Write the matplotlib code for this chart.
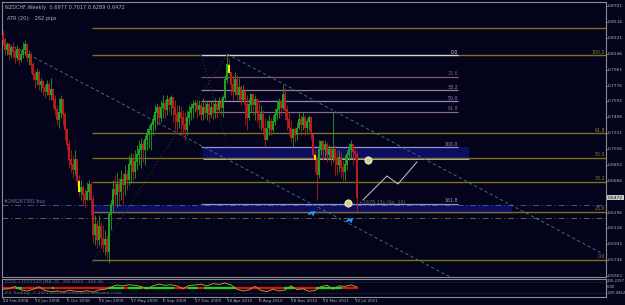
import matplotlib
matplotlib.use("Agg")
import matplotlib.pyplot as plt
from matplotlib.patches import Rectangle
from matplotlib.markers import MarkerStyle

# ---------------- data ----------------
symbol_header = "NZDCHF,Weekly  0.6977 0.7017 0.6289 0.6472"
atr_text = "ATR (20):   262 pips"

first_open = 0.836
closes = [0.8306,0.8189,0.8248,0.8131,0.822,0.8166,0.8097,0.8189,0.8073,0.8131,
          0.8189,0.8248,0.810,0.8131,0.8015,0.7899,0.7841,0.792,0.7782,0.782,
          0.775,0.770,0.7782,0.7666,0.7724,0.7608,0.7492,0.7375,0.746,0.7608,
          0.7434,0.7259,0.7085,0.6910,0.6852,0.6794,0.6910,0.6666,0.6538,0.6585,
          0.6503,0.6445,0.6538,0.662,0.6445,0.6038,0.6154,0.598,0.6131,0.600,
          0.5922,0.598,0.584,0.6271,0.6387,0.6561,0.6503,0.662,0.6538,0.6678,
          0.662,0.6736,0.6678,0.6852,0.691,0.677,0.6887,0.6968,0.7027,0.7085,
          0.7027,0.7143,0.7201,0.7259,0.7317,0.7375,0.746,0.7515,0.740,0.7515,
          0.756,0.7492,0.7608,0.755,0.7631,0.7515,0.7434,0.735,0.746,0.740,
          0.7317,0.7259,0.740,0.746,0.7515,0.755,0.756,0.7492,0.7538,0.7434,
          0.7515,0.746,0.755,0.7434,0.7515,0.746,0.755,0.7492,0.7573,0.7515,
          0.7631,0.7841,0.8015,0.7922,0.7782,0.770,0.7841,0.7666,0.775,0.7608,
          0.770,0.755,0.740,0.755,0.7666,0.755,0.7608,0.747,0.7375,0.7434,
          0.728,0.7143,0.728,0.735,0.7259,0.735,0.7434,0.7492,0.7585,0.7515,
          0.7666,0.7492,0.7375,0.728,0.7166,0.7259,0.7201,0.728,0.7375,0.7317,
          0.740,0.728,0.735,0.740,0.7201,0.6968,0.6910,0.6736,0.7027,0.712,
          0.7027,0.7085,0.6968,0.7027,0.6933,0.7027,0.691,0.6852,0.6933,0.6817,
          0.677,0.6852,0.6968,0.7027,0.7085,0.7004,0.6977,0.6472]
highs = [0.8422,0.833,0.828,0.827,0.8248,0.828,0.822,0.8248,0.823,0.8189,
         0.828,0.8306,0.827,0.8189,0.8166,0.805,0.7957,0.798,0.7957,0.786,
         0.7841,0.779,0.7841,0.782,0.786,0.775,0.7666,0.755,0.763,0.7666,
         0.7608,0.747,0.728,0.7143,0.7027,0.6968,0.7027,0.6887,0.6736,0.6678,
         0.662,0.6585,0.665,0.6678,0.6655,0.6503,0.6271,0.6212,0.6271,0.619,
         0.6154,0.6096,0.6038,0.630,0.6445,0.6678,0.6736,0.6759,0.670,0.6794,
         0.6759,0.6852,0.6794,0.6968,0.6991,0.6991,0.7027,0.7085,0.7143,0.7166,
         0.7143,0.7201,0.728,0.7317,0.735,0.7434,0.755,0.7573,0.755,0.7608,
         0.7666,0.7608,0.7666,0.7643,0.7666,0.7643,0.7608,0.755,0.755,0.754,
         0.7492,0.747,0.7492,0.755,0.7573,0.7608,0.7608,0.7608,0.7608,0.7585,
         0.7631,0.7608,0.7608,0.7585,0.7608,0.7585,0.7631,0.7608,0.7643,0.7631,
         0.7666,0.7899,0.8131,0.8096,0.7934,0.7899,0.7934,0.7899,0.7864,0.7782,
         0.7782,0.7724,0.7666,0.7631,0.7689,0.7666,0.7666,0.7631,0.7608,0.755,
         0.7492,0.740,0.7375,0.7434,0.740,0.7434,0.7515,0.7608,0.7631,0.7608,
         0.7782,0.775,0.755,0.747,0.7375,0.728,0.7294,0.735,0.747,0.7434,
         0.747,0.7434,0.740,0.7434,0.7375,0.7201,0.7027,0.6968,0.7143,0.7143,
         0.7143,0.7143,0.712,0.7085,0.705,0.747,0.7085,0.7027,0.7027,0.7004,
         0.691,0.6968,0.7027,0.7108,0.7143,0.7108,0.705,0.7017]
lows = [0.8248,0.8131,0.8131,0.8073,0.810,0.810,0.804,0.8073,0.8015,0.805,
        0.810,0.8131,0.805,0.8015,0.792,0.7841,0.775,0.7782,0.7724,0.770,
        0.7666,0.763,0.7666,0.7608,0.7608,0.7515,0.7434,0.7317,0.728,0.740,
        0.7317,0.7143,0.7027,0.682,0.677,0.670,0.6736,0.662,0.649,0.6445,
        0.6387,0.635,0.6445,0.6445,0.6271,0.5945,0.5922,0.589,0.5922,0.589,
        0.584,0.5805,0.577,0.5712,0.6096,0.630,0.6387,0.6364,0.6387,0.6445,
        0.6387,0.6503,0.6561,0.662,0.6643,0.6678,0.670,0.6794,0.6852,0.682,
        0.6887,0.6852,0.7027,0.705,0.7027,0.7201,0.7259,0.7317,0.7317,0.735,
        0.740,0.740,0.7434,0.747,0.7434,0.735,0.7259,0.7236,0.728,0.7201,
        0.7201,0.7143,0.7201,0.7317,0.7375,0.740,0.747,0.740,0.7434,0.7375,
        0.7375,0.740,0.7375,0.735,0.740,0.7375,0.740,0.740,0.747,0.7434,
        0.7411,0.7608,0.7806,0.7899,0.7666,0.7608,0.7666,0.7608,0.7608,0.755,
        0.7608,0.7317,0.7259,0.7375,0.747,0.7434,0.7375,0.735,0.728,0.7259,
        0.7201,0.706,0.7143,0.7201,0.7201,0.7236,0.7317,0.7375,0.740,0.7434,
        0.7492,0.7375,0.7259,0.7201,0.712,0.706,0.712,0.7143,0.7259,0.7201,
        0.7259,0.7201,0.7236,0.7259,0.7143,0.691,0.677,0.6445,0.670,0.6968,
        0.691,0.6933,0.6887,0.691,0.6852,0.6887,0.6736,0.6736,0.677,0.670,
        0.6678,0.6678,0.6794,0.691,0.6933,0.6852,0.691,0.6289]
signal_bars = [38, 113, 156]          # yellow-highlighted candles

date_labels = ["24 Feb 2008", "15 Jun 2008", "5 Oct 2008", "25 Jan 2009",
               "17 May 2009", "6 Sep 2009", "27 Dec 2009", "18 Apr 2010",
               "8 Aug 2010", "28 Nov 2010", "20 Mar 2011", "10 Jul 2011"]
date_weeks = [0, 16, 32, 48, 64, 80, 96, 112, 128, 144, 160, 176]

price_ticks = [0.8701, 0.8516, 0.8331, 0.8146, 0.7961, 0.7776, 0.7591, 0.7406,
               0.7221, 0.7036, 0.6851, 0.6666, 0.6296, 0.6116, 0.5931, 0.5746, 0.5561]
last_price = 0.6472

# Fibonacci (olive) retracement of the 2009-2010 swing
fib1_low, fib1_high = 0.5747, 0.8131
fib1_levels = [0.0, 23.6, 38.2, 50.0, 61.8, 100.0]
fib1_start = 44.5
extra_level = 0.8445

# Fibonacci (lavender) of the 2010-2011 swing
fib2_zero, fib2_hundred = 0.8131, 0.7061
fib2_levels = [0.0, 23.6, 38.2, 50.0, 61.8, 100.0, 161.8]
fib2_colors = ["#d8d0e0", "#7a5a6c", "#a07a98", "#9a88c0", "#8a6a88", "#9a90d0", "#9a90d0"]
fib2_start, fib2_end = 99.0, 227.5

zone1 = (100.0, 233.0, 0.6921, 0.7061)   # x0, x1, y0, y1
zone2 = (44.5, 254.5, 0.6280, 0.6387)
buy_level = 0.6387
dashdot_level = 0.6236

trend_a = [(0.0, 0.8294), (224.5, 0.5538)]
trend_b = [(112.0, 0.8143), (300.0, 0.5817)]
dotted_a = [(44.5, 0.5712), (112.0, 0.8131)]
dotted_b = [(99.0, 0.8131), (112.5, 0.7049)]
projection_w = [180.0, 192.0, 197.5, 207.0]
projection_p = [0.6445, 0.6724, 0.6631, 0.6887]
circles_w = [182.5, 172.5]
circles_p = [0.6910, 0.6410]
arrows_w = [154.5, 173.5]
arrows_p = [0.6305, 0.6224]

# CCI-type oscillator (lower panel), sampled every 3 weeks
osc_weeks = list(range(0, 178, 3))
osc_vals = [-60, -40, 40, -80, -120, -60, 30, -100, -150, -120, -160, -90, -130, -140, -110,
            -160, -80, -60, 20, 90, 60, 100, 80, 40, -50, 60, 120, 80, 100, 60,
            -40, 70, 90, 120, 60, 140, 110, 160, 90, -60, -120, -80, 40, -100, -140,
            -60, -120, -90, 60, -70, -40, -130, -100, 30, 80, -60, 60, 40, 90, 20]
zero_segments = [(0, 7, "r"), (7, 10, "g"), (10, 25, "r"), (25, 26, "g"), (26, 53, "r"),
                 (53, 61, "g"), (61, 63, "r"), (63, 70, "g"), (70, 71, "r"), (71, 86, "g"),
                 (86, 93, "r"), (93, 98, "g"), (98, 101, "r"), (101, 117, "g"),
                 (117, 141, "r"), (141, 146, "g"), (146, 157, "r"), (157, 170, "g"),
                 (170, 178, "r")]

# ---------------- drawing ----------------
W, H = 625, 305
BG = "#03031c"
FRAME = "#8c8c8c"
TXT = "#b4b4b4"
OLIVE = "#7d7020"

fig = plt.figure(figsize=(W / 100, H / 100), dpi=100, facecolor=BG)

def px_axes(x0, y0, x1, y1):
    return fig.add_axes([x0 / W, 1 - y1 / H, (x1 - x0) / W, (y1 - y0) / H])

ax = px_axes(2, 2, 606, 277)
ax.set_facecolor(BG)
ax.set_xlim(-0.5, 301.5)
ax.set_ylim(0.5549, 0.8748)
for s in ax.spines.values():
    s.set_color(FRAME)
    s.set_linewidth(0.8)
ax.set_xticks([]); ax.set_yticks([])

# zones
for (x0, x1, y0, y1) in (zone1, zone2):
    ax.add_patch(Rectangle((x0, y0), x1 - x0, y1 - y0, facecolor="#0d0d5e",
                           edgecolor="none", zorder=1))

# olive fib lines
fib1_range = fib1_high - fib1_low
for lv in fib1_levels:
    p = fib1_low + fib1_range * lv / 100.0
    ax.hlines(p, fib1_start, 301.5, color=OLIVE, lw=1.0, zorder=2)
    ax.text(301.0, p + 0.0006, f"{lv:.1f}", color="#8a7d30", fontsize=3.4,
            ha="right", va="bottom", zorder=6)
ax.hlines(extra_level, fib1_start, 301.5, color=OLIVE, lw=1.0, zorder=2)

# lavender fib lines
fib2_range = fib2_zero - fib2_hundred
for lv, c in zip(fib2_levels, fib2_colors):
    p = fib2_zero - fib2_range * lv / 100.0
    ax.hlines(p, fib2_start, fib2_end, color=c, lw=0.9, zorder=3)
    ax.text(fib2_end, p + 0.0006, f"{lv:.1f}", color=c, fontsize=3.4,
            ha="right", va="bottom", zorder=6)

ax.hlines(zone1[2], zone1[0], zone1[1], color="#c8c0d8", lw=0.6, zorder=3)

# order lines
ax.hlines(buy_level, -0.5, 301.5, color="#3a5a90", lw=0.7, ls=(0, (6, 3, 1, 3)), zorder=2)
ax.hlines(dashdot_level, -0.5, 301.5, color="#6a6a30", lw=0.7, ls=(0, (6, 3, 1, 3)), zorder=2)
ax.text(0.5, buy_level + 0.0012, "#246267391 buy", color="#7a7a8a", fontsize=3.4,
        ha="left", va="bottom", zorder=6)

# trend lines
for (a, b) in (trend_a, trend_b):
    ax.plot([a[0], b[0]], [a[1], b[1]], color="#4a7888", lw=0.6, ls=(0, (4, 3)), zorder=3)
for (a, b) in (dotted_a, dotted_b):
    ax.plot([a[0], b[0]], [a[1], b[1]], color="#1e3a1e", lw=0.8, ls=(0, (1, 2)), zorder=3)

# candles
opens = [first_open] + closes[:-1]
weeks = list(range(len(closes)))
up_col, dn_col = "#20a020", "#b81c1c"
cols = [up_col if c >= o else dn_col for o, c in zip(opens, closes)]
ax.vlines(weeks, lows, highs, colors=cols, lw=0.6, zorder=4)
ax.bar(weeks, [abs(c - o) + 0.0008 for o, c in zip(opens, closes)],
       bottom=[min(o, c) for o, c in zip(opens, closes)], width=0.75,
       color=cols, edgecolor="none", zorder=4)
ax.bar(signal_bars, [abs(closes[i] - opens[i]) for i in signal_bars],
       bottom=[min(opens[i], closes[i]) for i in signal_bars], width=1.2,
       color="#f0f000", edgecolor="none", zorder=5)

# projection
ax.plot(projection_w, projection_p, color="#c8c8c8", lw=0.7, zorder=5)
ax.scatter(circles_w, circles_p, s=28, color="#d8d8c8", edgecolor="#f0f0f0",
           lw=0.5, zorder=6)
ax.scatter(circles_w, circles_p, s=5, color="#e0d060", zorder=7)
arrow_marker = MarkerStyle("^").rotated(deg=-45)
for w, p in zip(arrows_w, arrows_p):
    ax.plot([w - 1.8, w], [p - 0.0030, p], color="#1e9cff", lw=1.3, zorder=7,
            solid_capstyle="butt")
    ax.scatter([w + 0.3], [p + 0.0004], marker=arrow_marker, s=14, color="#1e9cff",
               lw=0, zorder=7)
ax.text(178.0, 0.6410, "+1678.13s (Sp: 10)", color="#6a6a78", fontsize=3.4,
        ha="left", va="center", zorder=6)

# header
ax.text(1, 0.8748 - 0.0035, symbol_header, color=TXT, fontsize=3.6, ha="left", va="top")
ax.text(2, 0.8748 - 0.0160, atr_text, color=TXT, fontsize=3.6, ha="left", va="top")

# right price scale
for p in price_ticks:
    y = 6 + (0.8701 - p) / 0.001163
    fig.text(608 / W, 1 - y / H, f"{p:.4f}", color=TXT, fontsize=3.2, ha="left", va="center")
    fig.add_artist(plt.Line2D([606 / W, 607.5 / W], [1 - y / H] * 2, color=FRAME, lw=0.5))
yl = 6 + (0.8701 - last_price) / 0.001163
fig.text(608 / W, 1 - yl / H, f"{last_price:.4f}", color="#101010", fontsize=3.2,
         ha="left", va="center",
         bbox=dict(boxstyle="square,pad=0.12", facecolor="#c8c8c8", edgecolor="none"))

# indicator panel
ai = px_axes(2, 279, 606, 297)
ai.set_facecolor(BG)
ai.set_xlim(-0.5, 301.5)
ai.set_ylim(-330, 300)
for s in ai.spines.values():
    s.set_color(FRAME)
    s.set_linewidth(0.8)
ai.set_xticks([]); ai.set_yticks([])
ai.hlines([200, -200], -0.5, 301.5, color="#3a3a50", lw=0.5, ls=(0, (2, 2)))
for a, b, c in zero_segments:
    ai.hlines(0, a - 0.5, b - 0.5, color="#e01010" if c == "r" else "#10e010", lw=1.6)
ai.plot(osc_weeks, osc_vals, color="#b09a20", lw=0.7)
ai.text(1, 290, "[CCI] = [CCI(14)] [MA: 0]   206.8460  -356.48", color="#6a6a7a",
        fontsize=3.2, ha="left", va="top")
ai.text(1, -200, "IFX Trading, © 2001-2011 MetaQuotes Software Corp.", color="#6a6a7a",
        fontsize=3.2, ha="left", va="center")
fig.text(607 / W, 1 - 281 / H, "200.2297", color=TXT, fontsize=2.7, va="center")
fig.text(607 / W, 1 - 287 / H, "0.00", color=TXT, fontsize=2.7, va="center")
fig.text(607 / W, 1 - 293 / H, "-200.0862", color=TXT, fontsize=2.7, va="center")

# date axis
for w, lab in zip(date_weeks, date_labels):
    xp = 3 + 2 * w
    fig.text(xp / W, 1 - 301 / H, lab, color=TXT, fontsize=3.0, ha="left", va="center")
    fig.add_artist(plt.Line2D([xp / W] * 2, [1 - 297 / H, 1 - 299 / H], color=FRAME, lw=0.5))

fig.savefig("out.png", dpi=100, facecolor=BG)
